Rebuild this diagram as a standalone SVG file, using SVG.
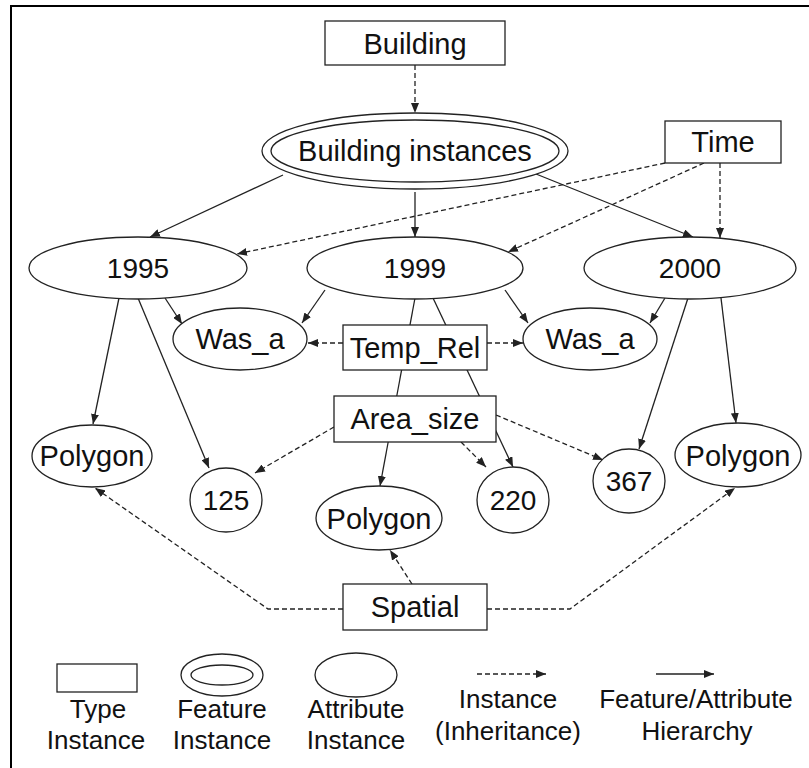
<svg xmlns="http://www.w3.org/2000/svg" width="809" height="768" viewBox="0 0 809 768">
<style>
text{font-family:"Liberation Sans",Arial,sans-serif;fill:#111;text-anchor:middle}
.n{font-size:29px}
.d{font-size:28px}
.l{font-size:26px}
.shape{fill:#fff;stroke:#222;stroke-width:1.3}
.c{fill:none;stroke:#222;stroke-width:1.3}
.ds{stroke-dasharray:5 3}
</style>
<defs>
<marker id="ah" markerWidth="10" markerHeight="8" refX="10" refY="4" orient="auto" markerUnits="userSpaceOnUse"><path d="M0,0 L10,4 L0,8 z" fill="#222"/></marker>
</defs>
<rect width="809" height="768" fill="#fff"/>
<path d="M11,768 V6 H809" fill="none" stroke="#000" stroke-width="2"/>
<g id="connectors">
<path class="c ds" d="M415,65 V113" marker-end="url(#ah)"/>
<path class="c" d="M283,175 L150,237" marker-end="url(#ah)"/>
<path class="c" d="M415,192 V237" marker-end="url(#ah)"/>
<path class="c" d="M536,174 L693,237" marker-end="url(#ah)"/>
<path class="c ds" d="M665,163 L237,254" marker-end="url(#ah)"/>
<path class="c ds" d="M704,163 L508,252" marker-end="url(#ah)"/>
<path class="c ds" d="M720,163 V238" marker-end="url(#ah)"/>
<path class="c" d="M165,298 L182,324" marker-end="url(#ah)"/>
<path class="c" d="M325,290 L302,323" marker-end="url(#ah)"/>
<path class="c" d="M505,290 L528,323" marker-end="url(#ah)"/>
<path class="c" d="M665,298 L650,323" marker-end="url(#ah)"/>
<path class="c" d="M119,298 L93,424" marker-end="url(#ah)"/>
<path class="c" d="M138,298 L209,468" marker-end="url(#ah)"/>
<path class="c" d="M688,298 L639,449" marker-end="url(#ah)"/>
<path class="c" d="M721,298 L736,423" marker-end="url(#ah)"/>
<path class="c" d="M415,298 L380,486" marker-end="url(#ah)"/>
<path class="c" d="M433,298 L513,467" marker-end="url(#ah)"/>
<path class="c ds" d="M343,343 H308" marker-end="url(#ah)"/>
<path class="c ds" d="M487,343 H523" marker-end="url(#ah)"/>
<path class="c ds" d="M334,427 L255,473" marker-end="url(#ah)"/>
<path class="c ds" d="M461,442 L486,467" marker-end="url(#ah)"/>
<path class="c ds" d="M496,415 L603,460" marker-end="url(#ah)"/>
<path class="c ds" d="M412,584 L390,550" marker-end="url(#ah)"/>
<path class="c ds" d="M343,609 H268 L95,488" marker-end="url(#ah)"/>
<path class="c ds" d="M487,609 H570 L735,488" marker-end="url(#ah)"/>
</g>
<g id="building"><rect class="shape" x="325" y="21" width="180" height="44"/><text class="n" x="415" y="54">Building</text></g>
<g id="building-instances"><ellipse class="shape" cx="415" cy="151" rx="153" ry="38"/><ellipse class="shape" cx="415" cy="151" rx="144" ry="31"/><text class="n" x="415" y="161">Building instances</text></g>
<g id="time"><rect class="shape" x="665" y="121" width="116" height="42"/><text class="n" x="723" y="152">Time</text></g>
<g id="y1995"><ellipse class="shape" cx="138" cy="268" rx="109" ry="31"/><text class="d" x="138" y="278">1995</text></g>
<g id="y1999"><ellipse class="shape" cx="415" cy="268" rx="108" ry="31"/><text class="d" x="415" y="278">1999</text></g>
<g id="y2000"><ellipse class="shape" cx="690" cy="268" rx="106" ry="31"/><text class="d" x="690" y="278">2000</text></g>
<g id="was-a-left"><ellipse class="shape" cx="240" cy="339" rx="67" ry="31"/><text class="n" x="240" y="349">Was_a</text></g>
<g id="was-a-right"><ellipse class="shape" cx="590" cy="339" rx="67" ry="31"/><text class="n" x="590" y="349">Was_a</text></g>
<g id="temp-rel"><rect class="shape" x="343" y="325" width="144" height="45"/><text class="n" x="415" y="358">Temp_Rel</text></g>
<g id="area-size"><rect class="shape" x="334" y="396" width="162" height="46"/><text class="n" x="415" y="429">Area_size</text></g>
<g id="polygon-left"><ellipse class="shape" cx="92" cy="456" rx="60" ry="31"/><text class="n" x="92" y="466">Polygon</text></g>
<g id="v125"><ellipse class="shape" cx="226" cy="500" rx="36" ry="32"/><text class="d" x="226" y="510">125</text></g>
<g id="polygon-mid"><ellipse class="shape" cx="379" cy="518" rx="63" ry="32"/><text class="n" x="379" y="529">Polygon</text></g>
<g id="v220"><ellipse class="shape" cx="513" cy="500" rx="36" ry="33"/><text class="d" x="513" y="510">220</text></g>
<g id="v367"><ellipse class="shape" cx="629" cy="481" rx="36" ry="32"/><text class="d" x="629" y="491">367</text></g>
<g id="polygon-right"><ellipse class="shape" cx="738" cy="455" rx="63" ry="32"/><text class="n" x="738" y="466">Polygon</text></g>
<g id="spatial"><rect class="shape" x="343" y="584" width="144" height="46"/><text class="n" x="415" y="617">Spatial</text></g>
<g id="legend">
<rect class="shape" x="57" y="664" width="80" height="28"/>
<ellipse class="shape" cx="222" cy="675" rx="41" ry="21"/><ellipse class="shape" cx="222" cy="675" rx="31" ry="10"/>
<ellipse class="shape" cx="356" cy="675" rx="41" ry="22"/>
<path class="c ds" d="M477,674 H546" marker-end="url(#ah)"/>
<path class="c" d="M656,674 H714" marker-end="url(#ah)"/>
<text class="l" x="98" y="718">Type</text><text class="l" x="96" y="749">Instance</text>
<text class="l" x="222" y="718">Feature</text><text class="l" x="222" y="749">Instance</text>
<text class="l" x="356" y="718">Attribute</text><text class="l" x="356" y="749">Instance</text>
<text class="l" x="508" y="708">Instance</text><text class="l" x="508" y="740">(Inheritance)</text>
<text class="l" x="696" y="708">Feature/Attribute</text><text class="l" x="697" y="740">Hierarchy</text>
</g>
</svg>
